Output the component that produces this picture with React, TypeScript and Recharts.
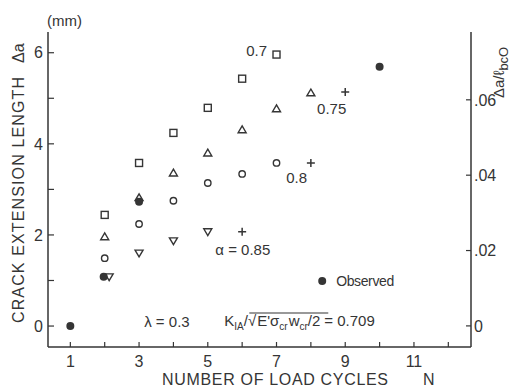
import React from 'react';
import { ScatterChart, Scatter, XAxis, YAxis, ReferenceDot } from 'recharts';

// ---- data ----
const cyclesTicks = [1, 2, 3, 4, 5, 6, 7, 8, 9, 10, 11, 12];
const lengthTicks = [0, 1, 2, 3, 4, 5, 6];
const ratioTicks = [0, 0.02, 0.04, 0.06];

const alpha070N = [2, 3, 4, 5, 6, 7];
const alpha070Da = [2.44, 3.58, 4.24, 4.79, 5.43, 5.96];

const alpha075N = [2, 3, 4, 5, 6, 7, 8];
const alpha075Da = [1.96, 2.82, 3.36, 3.8, 4.31, 4.77, 5.12];

const alpha080N = [2, 3, 4, 5, 6, 7];
const alpha080Da = [1.49, 2.24, 2.75, 3.14, 3.34, 3.58];

const alpha085N = [2.13, 3, 4, 5];
const alpha085Da = [1.08, 1.6, 1.87, 2.07];

const plusN = [6, 8, 9];
const plusDa = [2.07, 3.58, 5.14];

const observedN = [1, 1.97, 3, 10];
const observedDa = [0, 1.08, 2.73, 5.69];

// annotation anchors (data coordinates)
const curveLabels = ['0.7', '0.75', '0.8', 'α = 0.85'];
const curveLabelN = [6.12, 8.18, 7.28, 5.22];
const curveLabelDa = [6.04, 4.77, 3.25, 1.69];

const toPts = (n: number[], d: number[]) => n.map((v, i) => ({ n: v, da: d[i] }));

const C = '#353535';
const FONT = '"Liberation Sans", Arial, sans-serif';
const SW = 1.4;

const OpenSquare = (p: any) => (
  <rect x={p.cx - 3.5} y={p.cy - 3.5} width={7} height={7} fill="none" stroke={C} strokeWidth={SW} />
);
const OpenTriangle = (p: any) => (
  <path d={`M${p.cx},${p.cy - 3.8}L${p.cx + 4},${p.cy + 3}L${p.cx - 4},${p.cy + 3}Z`} fill="none" stroke={C} strokeWidth={SW} />
);
const OpenInvTriangle = (p: any) => (
  <path d={`M${p.cx},${p.cy + 3.8}L${p.cx + 4},${p.cy - 3}L${p.cx - 4},${p.cy - 3}Z`} fill="none" stroke={C} strokeWidth={SW} />
);
const OpenCircle = (p: any) => <circle cx={p.cx} cy={p.cy} r={3.2} fill="none" stroke={C} strokeWidth={SW} />;
const PlusMark = (p: any) => (
  <path d={`M${p.cx - 4},${p.cy}H${p.cx + 4}M${p.cx},${p.cy - 4}V${p.cy + 4}`} stroke={C} strokeWidth={1.5} fill="none" />
);
const FilledDot = (p: any) => <circle cx={p.cx} cy={p.cy} r={4} fill={C} stroke="none" />;

const TextAt = (label: string, size = 15) => (p: any) => (
  <text x={p.cx} y={p.cy} dominantBaseline="central" fill={C} fontSize={size} fontFamily={FONT}>
    {label}
  </text>
);

const ObservedKey = (p: any) => (
  <g>
    <circle cx={p.cx} cy={p.cy} r={4} fill={C} />
    <text x={p.cx + 14} y={p.cy} dominantBaseline="central" fill={C} fontSize={14} fontFamily={FONT} textLength={58}>
      Observed
    </text>
  </g>
);

const KExpr = (p: any) => {
  const x = p.cx;
  const y = p.cy + 5;
  return (
    <g fill={C} fontFamily={FONT}>
      <text x={x} y={y} fontSize={15}>
        K
        <tspan fontSize={10} dy={4}>IA</tspan>
        <tspan fontSize={15} dy={-4}>/√</tspan>
        <tspan fontSize={15} dx={1}>E'σ</tspan>
        <tspan fontSize={10} dy={4}>cr</tspan>
        <tspan fontSize={15} dy={-4} dx={1}>w</tspan>
        <tspan fontSize={10} dy={4}>cr</tspan>
        <tspan fontSize={15} dy={-4}>/2</tspan>
        <tspan fontSize={15} dx={4}>= 0.709</tspan>
      </text>
      <line x1={x + 25} x2={x + 104} y1={y - 13} y2={y - 13} stroke={C} strokeWidth={1.1} />
    </g>
  );
};

const tickStyle = { fill: C, fontSize: 16, fontFamily: FONT };
const axisLine = { stroke: C, strokeWidth: 1.5 };

export default function App() {
  return (
    <div style={{ position: 'absolute', left: 0, top: 0, width: 511, height: 390, background: '#fff' }}>
      <ScatterChart width={511} height={390} margin={{ top: 32, right: 0, bottom: 0, left: 8 }}>
        <XAxis
          xAxisId="top"
          orientation="top"
          type="number"
          domain={[0, 1]}
          height={0}
          tick={false}
          tickLine={false}
          axisLine={axisLine}
        />
        <XAxis
          type="number"
          dataKey="n"
          domain={[0.35, 12.66]}
          ticks={cyclesTicks}
          interval={0}
          allowDataOverflow
          tickFormatter={(v: number) => (v % 2 === 1 ? String(v) : '')}
          tickSize={-5}
          tickMargin={14}
          height={43}
          axisLine={axisLine}
          tickLine={{ stroke: C, strokeWidth: 1.2 }}
          tick={tickStyle}
        />
        <YAxis
          type="number"
          dataKey="da"
          domain={[-0.46, 6.455]}
          ticks={lengthTicks}
          interval={0}
          allowDataOverflow
          tickFormatter={(v: number) => (v % 2 === 0 ? String(v) : '')}
          tickSize={-6}
          tickMargin={11}
          width={40}
          axisLine={axisLine}
          tickLine={{ stroke: C, strokeWidth: 1.2 }}
          tick={tickStyle}
        />
        <YAxis
          yAxisId="right"
          orientation="right"
          type="number"
          domain={[-0.0056, 0.078]}
          ticks={ratioTicks}
          interval={0}
          allowDataOverflow
          tickFormatter={(v: number) => (v === 0 ? '0' : v.toFixed(2).replace(/^0/, ''))}
          tickSize={-5}
          tickMargin={8}
          width={40}
          axisLine={axisLine}
          tickLine={{ stroke: C, strokeWidth: 1.2 }}
          tick={tickStyle}
        />
        <Scatter data={toPts(alpha070N, alpha070Da)} shape={OpenSquare} isAnimationActive={false} />
        <Scatter data={toPts(alpha075N, alpha075Da)} shape={OpenTriangle} isAnimationActive={false} />
        <Scatter data={toPts(alpha080N, alpha080Da)} shape={OpenCircle} isAnimationActive={false} />
        <Scatter data={toPts(alpha085N, alpha085Da)} shape={OpenInvTriangle} isAnimationActive={false} />
        <Scatter data={toPts(plusN, plusDa)} shape={PlusMark} isAnimationActive={false} />
        <Scatter data={toPts(observedN, observedDa)} shape={FilledDot} isAnimationActive={false} />

        {curveLabels.map((l, i) => (
          <ReferenceDot key={l} x={curveLabelN[i]} y={curveLabelDa[i]} r={0} shape={TextAt(l)} />
        ))}
        <ReferenceDot x={8.33} y={0.99} r={0} shape={ObservedKey} />
        <ReferenceDot x={3.15} y={0.11} r={0} shape={TextAt('λ = 0.3')} />
        <ReferenceDot x={5.48} y={0.11} r={0} shape={KExpr} />

        <text x={47} y={26} fill={C} fontSize={15} fontFamily={FONT}>(mm)</text>
        <text
          x={24}
          y={323}
          transform="rotate(-90 24 323)"
          fill={C}
          fontSize={16}
          fontFamily={FONT}
          textLength={246}
          lengthAdjust="spacing"
        >
          CRACK EXTENSION LENGTH
        </text>
        <text x={24} y={63} transform="rotate(-90 24 63)" fill={C} fontSize={16} fontFamily={FONT}>
          Δa
        </text>
        <text x={162} y={385} fill={C} fontSize={16} fontFamily={FONT} textLength={226} lengthAdjust="spacing">
          NUMBER OF LOAD CYCLES
        </text>
        <text x={423} y={385} fill={C} fontSize={16} fontFamily={FONT}>N</text>
        <text x={504} y={98} transform="rotate(-90 504 98)" fill={C} fontSize={15} fontFamily={FONT}>
          Δa/ℓ
          <tspan fontSize={13} dy={4}>bcO</tspan>
        </text>
      </ScatterChart>
    </div>
  );
}
